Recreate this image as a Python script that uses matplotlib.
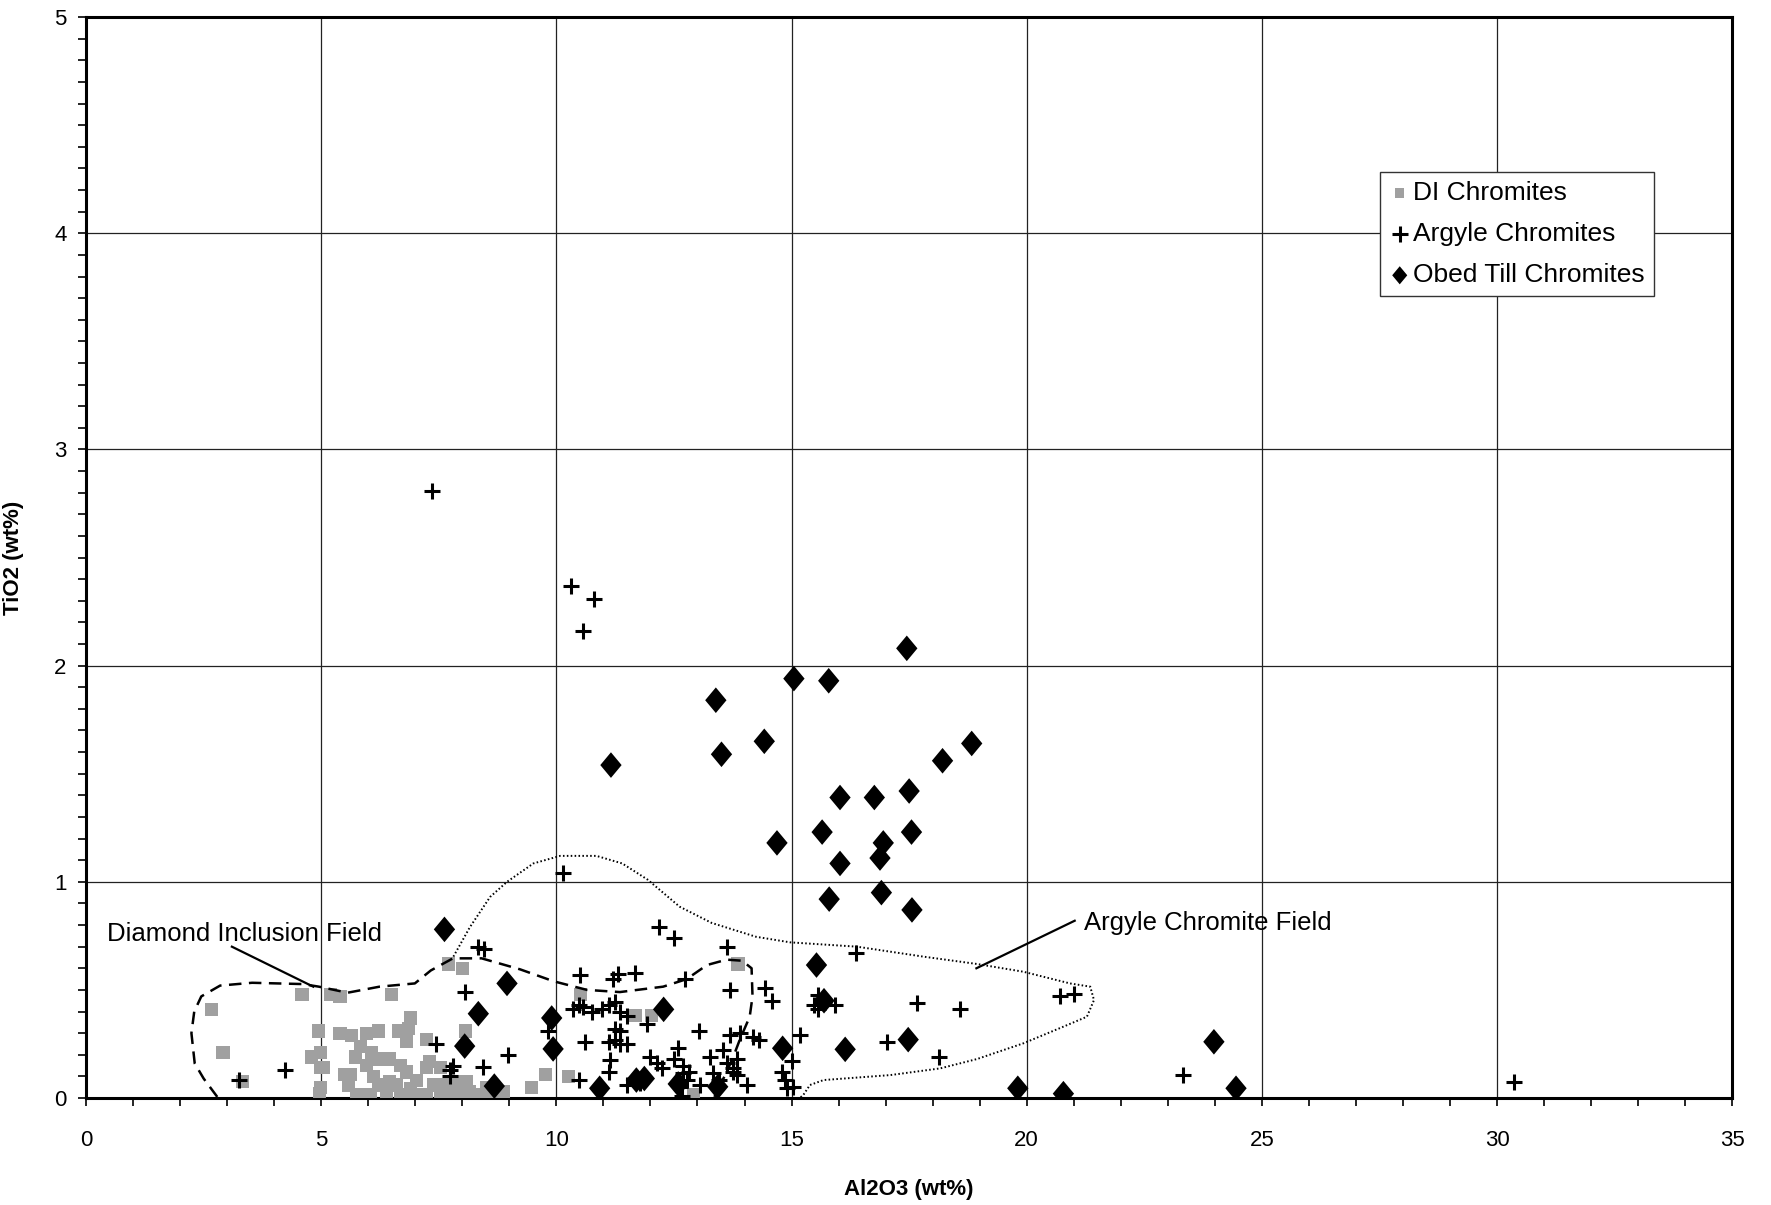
import matplotlib
matplotlib.use("Agg")
import matplotlib.pyplot as plt
from matplotlib.ticker import MultipleLocator

plt.rcParams['font.family'] = ['Liberation Sans', 'DejaVu Sans']

# DI chromites (Al2O3, TiO2)
di_x = [2.66, 2.91, 3.33, 4.59, 5.19, 5.40, 6.50, 7.70, 8.00, 4.94, 4.80, 4.99, 4.98, 4.98, 4.97,
        5.05, 5.40, 5.65, 5.97, 6.22, 6.64, 6.82, 6.89, 6.85, 7.24, 8.07, 5.83, 6.07, 6.18, 5.97,
        5.72, 6.46, 6.68, 5.61, 5.50, 5.58, 6.11, 6.22, 6.46, 6.60, 6.82, 7.03, 6.89, 7.31, 7.53,
        7.24, 7.38, 7.67, 7.88, 8.02, 8.16, 8.09, 8.52, 5.76, 6.04, 6.39, 6.68, 6.96, 7.24, 7.53,
        7.81, 8.09, 8.38, 8.66, 8.87, 10.51, 11.69, 12.03, 13.86, 9.76, 9.47, 10.25, 12.92]
di_y = [0.41, 0.21, 0.075, 0.48, 0.48, 0.47, 0.48, 0.62, 0.60, 0.31, 0.19, 0.21, 0.14, 0.05, 0.02,
        0.14, 0.30, 0.29, 0.30, 0.31, 0.31, 0.26, 0.37, 0.32, 0.27, 0.31, 0.24, 0.21, 0.18, 0.15,
        0.19, 0.18, 0.15, 0.11, 0.11, 0.06, 0.10, 0.06, 0.075, 0.06, 0.12, 0.08, 0.045, 0.17, 0.14,
        0.14, 0.06, 0.06, 0.075, 0.06, 0.03, 0.075, 0.046, 0.015, 0.015, 0.015, 0.015, 0.015, 0.015, 0.015,
        0.015, 0.015, 0.015, 0.015, 0.03, 0.48, 0.38, 0.38, 0.62, 0.11, 0.05, 0.10, 0.014]

# Argyle chromites
arg_x = [7.36, 10.31, 10.79, 10.57, 10.15, 8.34, 8.47, 8.05, 7.44, 7.80, 7.74, 7.73, 8.45, 8.98,
         4.24, 3.25, 9.82, 10.50, 10.36, 10.47, 10.57, 10.75, 10.97, 11.11, 11.25, 11.32, 11.21,
         11.67, 11.35, 11.50, 11.92, 11.25, 11.35, 11.25, 11.35, 11.11, 11.50, 10.60, 12.18, 12.51,
         12.74, 13.63, 13.69, 14.44, 14.58, 13.04, 12.59, 12.00, 12.14, 12.24, 12.49, 12.70, 12.81,
         13.27, 13.55, 13.62, 13.76, 13.83, 13.69, 13.90, 14.19, 14.30, 11.14, 11.11, 10.48, 11.50,
         11.78, 12.63, 12.70, 12.77, 12.66, 13.05, 13.34, 13.45, 13.76, 13.83, 14.05, 14.79, 14.86,
         14.90, 15.04, 15.00, 15.18, 16.37, 15.57, 15.47, 15.68, 15.93, 15.57, 17.66, 18.59, 20.70,
         21.00, 17.02, 18.14, 23.33, 30.36]
arg_y = [2.81, 2.37, 2.31, 2.16, 1.04, 0.70, 0.69, 0.49, 0.25, 0.15, 0.13, 0.10, 0.145, 0.20,
         0.13, 0.083, 0.31, 0.57, 0.41, 0.43, 0.42, 0.40, 0.41, 0.43, 0.445, 0.575, 0.55,
         0.58, 0.40, 0.38, 0.34, 0.32, 0.31, 0.27, 0.25, 0.26, 0.25, 0.26, 0.79, 0.74,
         0.55, 0.70, 0.50, 0.51, 0.45, 0.31, 0.23, 0.19, 0.16, 0.14, 0.18, 0.15, 0.12,
         0.19, 0.22, 0.16, 0.14, 0.18, 0.29, 0.30, 0.28, 0.27, 0.176, 0.12, 0.083, 0.06,
         0.068, 0.052, 0.115, 0.083, 0.01, 0.06, 0.115, 0.083, 0.12, 0.106, 0.06, 0.12, 0.083,
         0.045, 0.052, 0.17, 0.29, 0.67, 0.476, 0.43, 0.445, 0.43, 0.41, 0.44, 0.41, 0.47,
         0.48, 0.26, 0.19, 0.106, 0.075]

# Obed till chromites
obed_x = [7.62, 8.34, 8.05, 8.95, 8.68, 9.90, 9.93, 11.16, 10.92, 11.70, 11.87, 12.28, 12.59,
          13.39, 13.51, 13.43, 14.42, 14.69, 14.81, 15.05, 15.79, 15.65, 16.03, 16.03, 15.80,
          15.53, 15.69, 16.14, 16.76, 16.88, 16.95, 16.91, 17.45, 17.50, 17.55, 17.56, 17.48,
          18.21, 18.83, 19.81, 20.78, 23.98, 24.45]
obed_y = [0.78, 0.39, 0.24, 0.53, 0.055, 0.37, 0.227, 1.54, 0.045, 0.083, 0.09, 0.41, 0.065,
          1.84, 1.59, 0.052, 1.65, 1.18, 0.23, 1.94, 1.93, 1.23, 1.39, 1.085, 0.92,
          0.615, 0.45, 0.225, 1.39, 1.11, 1.18, 0.95, 2.08, 1.42, 1.23, 0.87, 0.27,
          1.56, 1.64, 0.045, 0.02, 0.26, 0.045]

# field outlines
dif_x = [2.79, 2.50, 2.31, 2.24, 2.30, 2.45, 2.85, 3.53, 4.61, 4.95, 5.56, 6.24, 6.99, 7.33,
         7.80, 8.41, 9.23, 9.94, 10.65, 11.35, 12.27, 12.77, 13.20, 13.62, 13.95, 14.15, 14.17,
         14.11, 13.90, 13.76, 13.60, 13.45, 13.36]
dif_y = [0.005, 0.09, 0.16, 0.30, 0.40, 0.47, 0.52, 0.533, 0.527, 0.515, 0.487, 0.515, 0.53, 0.59,
         0.646, 0.646, 0.595, 0.54, 0.50, 0.49, 0.515, 0.55, 0.615, 0.64, 0.635, 0.60, 0.47,
         0.376, 0.27, 0.19, 0.11, 0.05, 0.005]

acf_x = [7.81, 8.16, 8.59, 8.95, 9.51, 10.08, 10.85, 11.40, 11.94, 12.62, 13.30, 14.24, 14.97,
         16.39, 17.80, 18.94, 19.93, 20.92, 21.35, 21.43, 21.28, 20.78, 19.93, 18.94, 18.16,
         17.10, 15.68, 15.39, 15.25, 15.19]
acf_y = [0.654, 0.79, 0.93, 1.00, 1.085, 1.12, 1.12, 1.085, 1.01, 0.885, 0.81, 0.746, 0.72,
         0.70, 0.654, 0.62, 0.584, 0.53, 0.515, 0.453, 0.376, 0.33, 0.253, 0.18, 0.137,
         0.106, 0.083, 0.06, 0.014, 0.003]

diamond = [(0, -1.2), (1, 0), (0, 1.2), (-1, 0)]

fig = plt.figure(figsize=(17.71, 12.05), dpi=100)
ax = fig.add_axes([0.0486, 0.0888, 0.9295, 0.897])

ax.scatter(di_x, di_y, marker='s', s=90, c='#a0a0a0', edgecolors='none', zorder=3,
           label='DI Chromites')
ax.scatter(arg_x, arg_y, marker='+', s=135, c='black', linewidths=2.2, zorder=4,
           label='Argyle Chromites')
ax.scatter(obed_x, obed_y, marker=diamond, s=340, c='black', edgecolors='none', zorder=5,
           label='Obed Till Chromites')

ax.plot(dif_x, dif_y, color='black', lw=1.8, ls=(0, (5, 3)), zorder=6)
ax.plot(acf_x, acf_y, color='black', lw=1.4, ls=(0, (0.8, 1.2)), zorder=6)

ax.text(0.45, 0.76, 'Diamond Inclusion Field', fontsize=18.5, va='center', ha='left', zorder=7)
ax.plot([3.1, 4.83], [0.70, 0.515], color='black', lw=1.6, zorder=7)
ax.text(21.22, 0.81, 'Argyle Chromite Field', fontsize=18.5, va='center', ha='left', zorder=7)
ax.plot([21.02, 18.93], [0.82, 0.60], color='black', lw=1.6, zorder=7)

ax.set_xlim(0, 35)
ax.set_ylim(0, 5)
ax.xaxis.set_major_locator(MultipleLocator(5))
ax.xaxis.set_minor_locator(MultipleLocator(1))
ax.yaxis.set_major_locator(MultipleLocator(1))
ax.yaxis.set_minor_locator(MultipleLocator(0.1))
ax.grid(True, which='major', color='#222222', lw=0.9)
ax.set_axisbelow(True)

ax.tick_params(which='both', direction='out', length=6, width=1.2, labelsize=16)
ax.tick_params(axis='x', which='major', pad=17)
ax.tick_params(axis='y', which='major', pad=8)
for sp in ax.spines.values():
    sp.set_linewidth(2.2)

ax.set_xlabel('Al2O3 (wt%)', fontsize=16, fontweight='bold', labelpad=20)
ax.set_ylabel('TiO2 (wt%)', fontsize=16, fontweight='bold', labelpad=22)

leg = ax.legend(loc='upper left', bbox_to_anchor=(0.786, 0.857), fontsize=19,
                handletextpad=0.1, handlelength=0.8, borderpad=0.35,
                labelspacing=0.65, fancybox=False, framealpha=1, edgecolor='#333333',
                borderaxespad=0)
leg.get_frame().set_linewidth(1.0)
for h, sz in zip(leg.legend_handles, [45, 120, 170]):
    h.set_sizes([sz])

fig.savefig('out.png', dpi=100)
